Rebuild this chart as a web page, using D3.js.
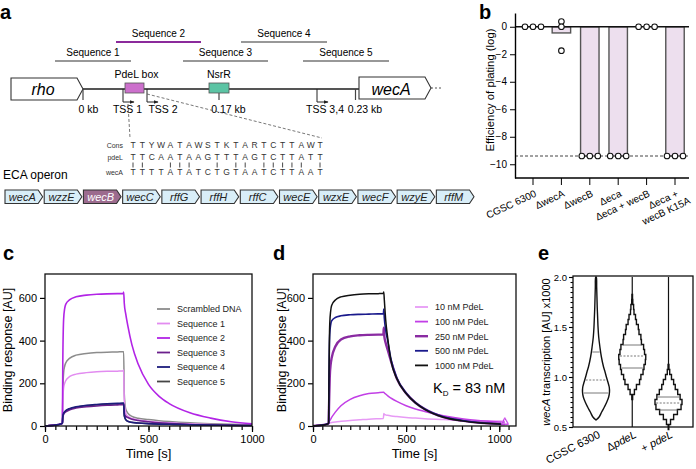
<!DOCTYPE html>
<html>
<head>
<meta charset="utf-8">
<script src="https://cdn.jsdelivr.net/npm/d3@7"></script>
<style>
body { margin: 0; background: #fff; }
svg { display: block; font-family: "Liberation Sans", Arial, sans-serif; }
</style>
</head>
<body>
<script>
var W = 696, H = 469;
var svg = d3.select("body").append("svg").attr("width", W).attr("height", H);

// ---------- panel a data
var seqNames = ["Sequence 1", "Sequence 2", "Sequence 3", "Sequence 4", "Sequence 5"];
var consSeq = "TTYWATAWSTKTARTCTTAWT";
var pdelSeq = "TTCAATAAGTTTAGTCTTATT";
var wecaSeq = "TTTTATATCTGTAATCTTAAT";
var operonGenes = ["wecA", "wzzE", "wecB", "wecC", "rffG", "rffH", "rffC", "wecE", "wzxE", "wecF", "wzyE", "rffM"];

// ---------- panel b data
var bCats = ["CGSC 6300", "ΔwecA", "ΔwecB", "Δeca", "Δeca + wecB", "Δeca +|wecB K15A"];
var bMeans = [0, -0.45, -9.4, -9.4, 0, -9.4];
var bPoints = [[0, 0, 0], [0.38, 0, -1.74], [-9.4, -9.4, -9.4], [-9.4, -9.4, -9.4], [0, 0, 0], [-9.4, -9.4, -9.4]];
var bLimit = -9.4;
var bTicks = [0, -2, -4, -6, -8, -10];

// ---------- panel c data (time in s, response in AU)
var cTime = [0, 40, 80, 84, 86, 90, 95, 100, 120, 150, 200, 250, 300, 350, 378, 380, 383, 390, 400, 420, 450, 500, 550, 600, 700, 800, 900, 1000];
var cScrambled = [0, 3, 10, 14, 150, 250, 280, 295, 318, 332, 340, 344, 346, 347, 348, 348, 150, 80, 60, 45, 36, 30, 25, 21, 15, 11, 8, 6];
var cSeq1 = [0, 3, 10, 14, 120, 180, 200, 212, 232, 243, 250, 254, 256, 257, 258, 262, 120, 60, 45, 35, 28, 22, 18, 15, 10, 7, 5, 4];
var cSeq2 = [0, 3, 10, 14, 300, 500, 550, 570, 592, 605, 613, 617, 619, 620, 620, 628, 575, 525, 470, 380, 290, 195, 140, 105, 62, 37, 20, 10];
var cSeq3 = [0, 3, 10, 14, 40, 55, 62, 66, 76, 84, 90, 94, 97, 99, 100, 100, 60, 45, 40, 32, 26, 20, 15, 12, 7, 5, 3, 2];
var cSeq4 = [0, 3, 10, 14, 45, 60, 67, 72, 82, 90, 97, 101, 104, 106, 108, 108, 50, 30, 22, 17, 14, 11, 9, 8, 6, 4, 3, 2];
var cSeq5 = [0, 3, 10, 14, 42, 58, 65, 70, 80, 88, 95, 99, 102, 104, 105, 105, 48, 30, 22, 17, 14, 11, 9, 8, 6, 4, 3, 2];
var cNames = ["Scrambled DNA", "Sequence 1", "Sequence 2", "Sequence 3", "Sequence 4", "Sequence 5"];
var cColors = ["#8c8c8c", "#e28cf0", "#b224e6", "#6b1f8c", "#1c1c7c", "#454545"];

// ---------- panel d data
var dTime = [0, 40, 80, 84, 86, 90, 95, 100, 120, 150, 200, 250, 300, 350, 378, 380, 383, 390, 400, 420, 450, 500, 550, 600, 700, 800, 900, 1000, 1030];
var d10 = [0, 3, 10, 12, 13, 14, 15, 16, 19, 22, 26, 29, 32, 34, 35, 58, 55, 52, 50, 47, 44, 40, 37, 34, 30, 27, 25, 23, 22];
var d100 = [0, 3, 10, 14, 18, 25, 32, 40, 65, 95, 125, 142, 152, 156, 158, 158, 155, 150, 142, 130, 115, 95, 80, 68, 48, 34, 25, 19, 17];
var d250 = [0, 3, 10, 14, 90, 230, 290, 318, 372, 405, 420, 425, 427, 428, 428, 460, 420, 390, 360, 300, 222, 153, 109, 79, 42, 25, 15, 10, 9];
var d500 = [0, 3, 10, 14, 230, 430, 475, 492, 508, 516, 521, 523, 524, 525, 525, 548, 505, 450, 405, 308, 226, 155, 110, 80, 43, 26, 15, 10, 9];
var d1000 = [0, 3, 10, 14, 250, 480, 540, 565, 590, 605, 613, 617, 619, 620, 621, 628, 590, 500, 420, 300, 222, 152, 108, 78, 41, 24, 14, 9, 8];
var dNames = ["10 nM PdeL", "100 nM PdeL", "250 nM PdeL", "500 nM PdeL", "1000 nM PdeL"];
var dColors = ["#e79af5", "#c23fe6", "#8a2ba2", "#1a1a8c", "#111111"];

// ---------- panel e data
var eCats = ["CGSC 6300", "ΔpdeL", "+ pdeL"];
var eLevelsWT = [0.57, 0.6, 0.65, 0.7, 0.75, 0.8, 0.85, 0.9, 0.95, 1.0, 1.05, 1.1, 1.2, 1.3, 1.4, 1.5, 1.6, 1.7, 1.8, 1.9, 2.0];
var eDensWT = [0, 0.23, 0.42, 0.62, 0.8, 0.94, 1.0, 0.98, 0.88, 0.77, 0.67, 0.56, 0.4, 0.29, 0.2, 0.15, 0.12, 0.09, 0.07, 0.05, 0.02];
var eLevelsDel = [0.8, 0.85, 0.9, 0.95, 1.0, 1.05, 1.1, 1.15, 1.2, 1.25, 1.3, 1.35, 1.4, 1.45, 1.5, 1.55, 1.6, 1.65, 1.7, 1.75, 1.8];
var eDensDel = [0.03, 0.16, 0.31, 0.54, 0.64, 0.8, 0.87, 0.97, 1.0, 0.91, 0.84, 0.68, 0.64, 0.5, 0.45, 0.31, 0.24, 0.13, 0.1, 0.04, 0.02];
var eLevelsPlus = [0.5, 0.55, 0.6, 0.65, 0.7, 0.75, 0.8, 0.85, 0.9, 0.95, 1.0, 1.05, 1.1];
var eDensPlus = [0.02, 0.15, 0.38, 0.66, 0.93, 1.0, 0.86, 0.68, 0.5, 0.38, 0.22, 0.09, 0.03];
var eRange = [[0.57, 2.0], [0.5, 2.0], [0.5, 2.0]];
var eQuart = [[0.84, 0.97, 1.25], [1.09, 1.21, 1.32], [0.67, 0.74, 0.80]];

// ---------- helpers
function panelLabel(t, x, y) {
  svg.append("text").attr("x", x).attr("y", y).attr("font-size", 20).attr("font-weight", "bold").text(t);
}
function txt(g, t, x, y, size, anchor) {
  return g.append("text").attr("x", x).attr("y", y).attr("font-size", size)
    .attr("text-anchor", anchor || "middle").text(t);
}
function pentagon(g, x0, x1, y0, y1, tip, fill, stroke) {
  var ym = (y0 + y1) / 2;
  return g.append("path")
    .attr("d", "M" + x0 + "," + y0 + "H" + (x1 - tip) + "L" + x1 + "," + ym + "L" + (x1 - tip) + "," + y1 + "H" + x0 + "Z")
    .attr("fill", fill).attr("stroke", stroke).attr("stroke-width", 1.1);
}

// ================= panel a
panelLabel("a", 0, 19);
var ga = svg.append("g");
var seqSpans = [[55, 131, 61], [116, 201, 42], [183, 268, 61], [241, 327, 42], [303, 389, 61]];
seqNames.forEach(function(n, i) {
  var s = seqSpans[i];
  ga.append("line").attr("x1", s[0]).attr("x2", s[1]).attr("y1", s[2]).attr("y2", s[2])
    .attr("stroke", i === 1 ? "#8b2a9b" : "#333").attr("stroke-width", i === 1 ? 2 : 1.2);
  txt(ga, n, (s[0] + s[1]) / 2, s[2] - 5, 10);
});

ga.append("line").attr("x1", 83).attr("x2", 359).attr("y1", 89).attr("y2", 89).attr("stroke", "#555").attr("stroke-width", 1.8);
ga.append("line").attr("x1", 431).attr("x2", 442).attr("y1", 88).attr("y2", 88).attr("stroke", "#555").attr("stroke-width", 1.2).attr("stroke-dasharray", "2,2");
pentagon(ga, 11, 83, 78, 100, 6, "#fff", "#333");
txt(ga, "rho", 43, 95, 16).attr("font-style", "italic");
pentagon(ga, 359, 431, 77, 99, 6, "#fff", "#333");
txt(ga, "wecA", 391, 95, 16).attr("font-style", "italic");

// kb ticks
[[83, 89], [219, 93], [355.5, 89]].forEach(function(t) {
  ga.append("line").attr("x1", t[0]).attr("x2", t[0]).attr("y1", t[1]).attr("y2", 100).attr("stroke", "#444").attr("stroke-width", 1.2);
});
// TSS arrows
ga.append("defs").append("marker").attr("id", "ah").attr("viewBox", "0 0 10 10").attr("refX", 9).attr("refY", 5)
  .attr("markerWidth", 5).attr("markerHeight", 5).attr("orient", "auto")
  .append("path").attr("d", "M0,1L10,5L0,9Z").attr("fill", "#222");
[123, 147, 317].forEach(function(x) {
  ga.append("path").attr("d", "M" + x + ",89V102H" + (x + 11)).attr("fill", "none")
    .attr("stroke", "#222").attr("stroke-width", 1).attr("marker-end", "url(#ah)");
});
// boxes
ga.append("rect").attr("x", 125).attr("y", 83).attr("width", 19).attr("height", 10).attr("fill", "#cc70cc").attr("stroke", "#555").attr("stroke-width", 0.8);
ga.append("rect").attr("x", 209).attr("y", 83).attr("width", 20).attr("height", 10).attr("fill", "#5cc4a4").attr("stroke", "#555").attr("stroke-width", 0.8);
txt(ga, "PdeL box", 136.5, 78, 10.5);
txt(ga, "NsrR", 219, 78, 10.5);
txt(ga, "0 kb", 88.5, 113, 10.5);
txt(ga, "TSS 1", 127.5, 113, 10.5);
txt(ga, "TSS 2", 163, 113, 10.5);
txt(ga, "0.17 kb", 228.5, 113, 10.5);
txt(ga, "TSS 3,4", 325, 113, 10.5);
txt(ga, "0.23 kb", 365, 113, 10.5);

// zoom lines
ga.append("line").attr("x1", 128).attr("y1", 104).attr("x2", 130).attr("y2", 138).attr("stroke", "#555").attr("stroke-width", 0.8).attr("stroke-dasharray", "3,2");
ga.append("line").attr("x1", 147).attr("y1", 94).attr("x2", 322).attr("y2", 138).attr("stroke", "#555").attr("stroke-width", 0.8).attr("stroke-dasharray", "3,2");

// alignment
var xa = d3.scalePoint().domain(d3.range(consSeq.length)).range([133, 320]);
var rows = [["Cons", consSeq, 148], ["pdeL", pdelSeq, 160], ["wecA", wecaSeq, 174.5]];
rows.forEach(function(r) {
  txt(ga, r[0], 123, r[2], 7, "end").attr("fill", "#333");
  ga.selectAll(null).data(r[1].split("")).enter().append("text")
    .attr("x", function(d, i) { return xa(i); }).attr("y", r[2])
    .attr("font-size", 8.5).attr("text-anchor", "middle").attr("fill", "#333").text(function(d) { return d; });
});
d3.range(consSeq.length).forEach(function(i) {
  if (pdelSeq[i] === wecaSeq[i]) {
    ga.append("line").attr("x1", xa(i)).attr("x2", xa(i)).attr("y1", 162.5).attr("y2", 167.5).attr("stroke", "#333").attr("stroke-width", 0.9);
  }
});

// ECA operon
txt(ga, "ECA operon", 3, 179, 12, "start");
var xo = d3.scaleBand().domain(operonGenes).range([5, 474]).paddingInner(0.04);
operonGenes.forEach(function(gn) {
  var x0 = xo(gn), x1 = x0 + xo.bandwidth();
  var hl = gn === "wecB";
  pentagon(ga, x0, x1, 190, 203.5, 4.5, hl ? "#9c6b8e" : "#d9eef8", "#333");
  txt(ga, gn, (x0 + x1 - 3) / 2, 200.5, 11).attr("font-style", "italic").attr("fill", hl ? "#fff" : "#222");
});

// ================= panel b
panelLabel("b", 479, 19);
var gb = svg.append("g");
var yb = d3.scaleLinear().domain([-11, 1]).range([178, 13]);
var xb = d3.scaleBand().domain(bCats).range([518.8, 689.2]).paddingInner(0.35).paddingOuter(0.175);
gb.selectAll(".bar").data(bCats).enter().append("rect")
  .attr("x", function(d) { return xb(d); }).attr("width", xb.bandwidth())
  .attr("y", function(d, i) { return yb(0); })
  .attr("height", function(d, i) { return yb(bMeans[i]) - yb(0); })
  .attr("fill", "#eddfee").attr("stroke", "#555").attr("stroke-width", 1.4)
  .style("display", function(d, i) { return bMeans[i] === 0 ? "none" : null; });
gb.append("line").attr("x1", 515).attr("x2", 689).attr("y1", yb(bLimit)).attr("y2", yb(bLimit))
  .attr("stroke", "#444").attr("stroke-width", 1).attr("stroke-dasharray", "3,2");
gb.append("line").attr("x1", 515).attr("x2", 689).attr("y1", yb(0)).attr("y2", yb(0)).attr("stroke", "#111").attr("stroke-width", 1.3);
var bAx = gb.append("g").attr("transform", "translate(515,0)")
  .call(d3.axisLeft(yb).tickValues(bTicks).tickSize(5).tickPadding(3).tickSizeOuter(0));
bAx.select(".domain").attr("stroke-width", 1.4);
bAx.selectAll("text").attr("font-size", 10).attr("font-family", null);
var bxAx = gb.append("g").attr("transform", "translate(0,178)")
  .call(d3.axisBottom(xb).tickSize(7).tickSizeOuter(0).tickFormat(""));
bxAx.select(".domain").attr("d", "M515,0H689").attr("stroke-width", 1.4);
bCats.forEach(function(c) {
  var parts = c.split("|");
  var t = gb.append("text").attr("font-size", 10).attr("text-anchor", "end")
    .attr("transform", "translate(" + (xb(c) + xb.bandwidth() / 2 + 4) + ",196) rotate(-25)");
  parts.forEach(function(p, k) {
    t.append("tspan").attr("x", k * 8).attr("dy", k === 0 ? 0 : "1.15em").text(p);
  });
});
bPoints.forEach(function(pts, i) {
  var cx = xb(bCats[i]) + xb.bandwidth() / 2;
  var spread = bMeans[i] === -0.45 ? [0, 0, 0] : [-8, 0, 8];
  pts.forEach(function(v, k) {
    gb.append("circle").attr("cx", cx + spread[k]).attr("cy", yb(v)).attr("r", 2.8)
      .attr("fill", "#fff").attr("stroke", "#111").attr("stroke-width", 1.1);
  });
});
gb.append("text").attr("transform", "translate(494,90) rotate(-90)").attr("text-anchor", "middle")
  .attr("font-size", 11.3).text("Efficiency of plating (log)");

// ================= panels c, d shared
function sprPanel(g, x, y, time, series, colors, names, legend) {
  var xAxMinor = g.append("g").attr("transform", "translate(0," + y.range()[0] + ")")
    .call(d3.axisBottom(x).tickValues(d3.range(0, x.domain()[1] + 1, 50)).tickSize(4).tickFormat(""));
  xAxMinor.select(".domain").remove();
  var xAx = g.append("g").attr("transform", "translate(0," + y.range()[0] + ")")
    .call(d3.axisBottom(x).tickValues([0, 500, 1000]).tickSize(6).tickPadding(3).tickSizeOuter(0).tickFormat(d3.format("d")));
  xAx.select(".domain").remove();
  xAx.selectAll("text").attr("font-size", 11).attr("font-family", null);
  var yAx = g.append("g").attr("transform", "translate(" + x.range()[0] + ",0)")
    .call(d3.axisLeft(y).tickValues([0, 200, 400, 600]).tickSize(5).tickPadding(3).tickSizeOuter(0));
  yAx.select(".domain").remove();
  yAx.selectAll("text").attr("font-size", 11).attr("font-family", null);
  g.selectAll("g.tick line").attr("stroke-width", 1.2);
  var line = d3.line().x(function(d, i) { return x(time[i]); }).y(function(d) { return y(d); }).curve(d3.curveMonotoneX);
  legend.order.forEach(function(i) {
    g.append("path").attr("d", line(series[i])).attr("fill", "none").attr("stroke", colors[i])
      .attr("stroke-width", legend.widths[i]);
  });
  g.append("rect").attr("x", x.range()[0]).attr("y", y.range()[1]).attr("width", x.range()[1] - x.range()[0])
    .attr("height", y.range()[0] - y.range()[1]).attr("fill", "none").attr("stroke", "#111").attr("stroke-width", 1.3);
  names.forEach(function(n, i) {
    var ly = legend.y0 + i * legend.dy;
    g.append("line").attr("x1", legend.x0).attr("x2", legend.x0 + 13).attr("y1", ly).attr("y2", ly)
      .attr("stroke", colors[i]).attr("stroke-width", Math.max(1.8, legend.widths[i]));
    txt(g, n, legend.x0 + 20, ly + 3.3, 9, "start").attr("fill", "#222");
  });
  var xm = (x.range()[0] + x.range()[1]) / 2;
  txt(g, "Time [s]", xm, 458, 13);
  g.append("text").attr("transform", "translate(" + legend.ylab + ",350) rotate(-90)").attr("text-anchor", "middle")
    .attr("font-size", 12.5).text("Binding response [AU]");
}

// ================= panel c
panelLabel("c", 3, 260);
var gc = svg.append("g");
var xc = d3.scaleLinear().domain([0, 1000]).range([45, 252]);
var yc = d3.scaleLinear().domain([0, 712]).range([426, 274]);
sprPanel(gc, xc, yc, cTime, [cScrambled, cSeq1, cSeq2, cSeq3, cSeq4, cSeq5], cColors, cNames,
  { order: [0, 1, 5, 2, 3, 4], widths: [1.5, 1.5, 1.6, 1.6, 1.6, 1.5], x0: 157, y0: 309, dy: 14.5, ylab: 12 });

// ================= panel d
panelLabel("d", 273, 260);
var gd = svg.append("g");
var xd = d3.scaleLinear().domain([0, 1090]).range([313, 516]);
var yd = d3.scaleLinear().domain([0, 712]).range([426, 274]);
sprPanel(gd, xd, yd, dTime, [d10, d100, d250, d500, d1000], dColors, dNames,
  { order: [0, 1, 2, 3, 4], widths: [1.5, 1.5, 2.4, 1.6, 1.5], x0: 415, y0: 307, dy: 14.6, ylab: 286 });
[d10, d100].forEach(function(s, i) {
  gd.append("path").attr("d", d3.symbol(d3.symbolTriangle, 22)())
    .attr("transform", "translate(" + xd(dTime[dTime.length - 1]) + "," + yd(s[s.length - 1]) + ")")
    .attr("fill", "none").attr("stroke", dColors[i]).attr("stroke-width", 1);
});
var kd = gd.append("text").attr("x", 433).attr("y", 393).attr("font-size", 14.5);
kd.append("tspan").text("K");
kd.append("tspan").attr("font-size", 8).attr("dy", 3).text("D");
kd.append("tspan").attr("dy", -3).text(" = 83 nM");

// ================= panel e
panelLabel("e", 538, 260);
var ge = svg.append("g");
var ye = d3.scaleLinear().domain([0.5, 2.0]).range([427, 277]);
var xe = d3.scalePoint().domain(eCats).range([596, 668.5]);
var we = d3.scaleLinear().domain([0, 1]).range([0, 13.5]);
var eMinor = ge.append("g").attr("transform", "translate(573,0)")
  .call(d3.axisLeft(ye).tickValues(d3.range(0.5, 2.001, 0.05)).tickSize(2.5).tickFormat(""));
eMinor.select(".domain").remove();
var eAx = ge.append("g").attr("transform", "translate(573,0)")
  .call(d3.axisLeft(ye).tickValues([0.5, 1.0, 1.5, 2.0]).tickSize(4).tickPadding(2).tickFormat(d3.format(".1f")).tickSizeOuter(0));
eAx.select(".domain").remove();
eAx.selectAll("text").attr("font-size", 9.5).attr("font-family", null);
ge.selectAll("g.tick line").attr("stroke-width", 1.1);

var eSets = [[eLevelsWT, eDensWT], [eLevelsDel, eDensDel], [eLevelsPlus, eDensPlus]];
eSets.forEach(function(s, i) {
  var cx = xe(eCats[i]);
  var L = s[0], D = s[1];
  if (i > 0) {
    ge.append("line").attr("x1", cx).attr("x2", cx).attr("y1", ye(eRange[i][0])).attr("y2", ye(eRange[i][1]))
      .attr("stroke", "#111").attr("stroke-width", 1.2);
  }
  var d;
  if (i === 0) {
    var right = L.map(function(l, k) { return [cx + we(D[k]), ye(l)]; });
    var left = L.map(function(l, k) { return [cx - we(D[k]), ye(l)]; }).reverse();
    d = d3.line().curve(d3.curveCatmullRom)(right.concat(left)) + "Z";
  } else {
    var half = (L[1] - L[0]) / 2, pts = [];
    L.forEach(function(l, k) {
      pts.push([we(D[k]), ye(l - half)], [we(D[k]), ye(l + half)]);
    });
    var rp = pts.map(function(p) { return [cx + p[0], p[1]]; });
    var lp = pts.map(function(p) { return [cx - p[0], p[1]]; }).reverse();
    d = d3.line()(rp.concat(lp)) + "Z";
  }
  ge.append("path").attr("d", d).attr("fill", "#fff").attr("stroke", "#111").attr("stroke-width", 1.4);
  var wAt = d3.scaleLinear().domain(L).range(D).clamp(true);
  eQuart[i].forEach(function(q, k) {
    var hw = we(wAt(q));
    ge.append("line").attr("x1", cx - hw + 1).attr("x2", cx + hw - 1).attr("y1", ye(q)).attr("y2", ye(q))
      .attr("stroke", "#555").attr("stroke-width", 0.8).attr("stroke-dasharray", k === 1 ? "2,1.5" : null);
  });
});
ge.append("rect").attr("x", 573).attr("y", 276).attr("width", 120).attr("height", 151)
  .attr("fill", "none").attr("stroke", "#111").attr("stroke-width", 1.3);
eCats.forEach(function(c, i) {
  var t = ge.append("text").attr("font-size", 11).attr("text-anchor", "end")
    .attr("transform", "translate(" + (xe(c) + 5) + ",437) rotate(-27)");
  if (i === 0) t.text(c);
  else {
    var pre = i === 1 ? "Δ" : "+ ";
    t.append("tspan").text(pre);
    t.append("tspan").attr("font-style", "italic").text("pdeL");
  }
});
var ey = ge.append("text").attr("transform", "translate(550,352) rotate(-90)").attr("text-anchor", "middle").attr("font-size", 11);
ey.append("tspan").attr("font-style", "italic").text("wecA");
ey.append("tspan").text(" transcription [AU] x1000");
</script>
</body>
</html>
